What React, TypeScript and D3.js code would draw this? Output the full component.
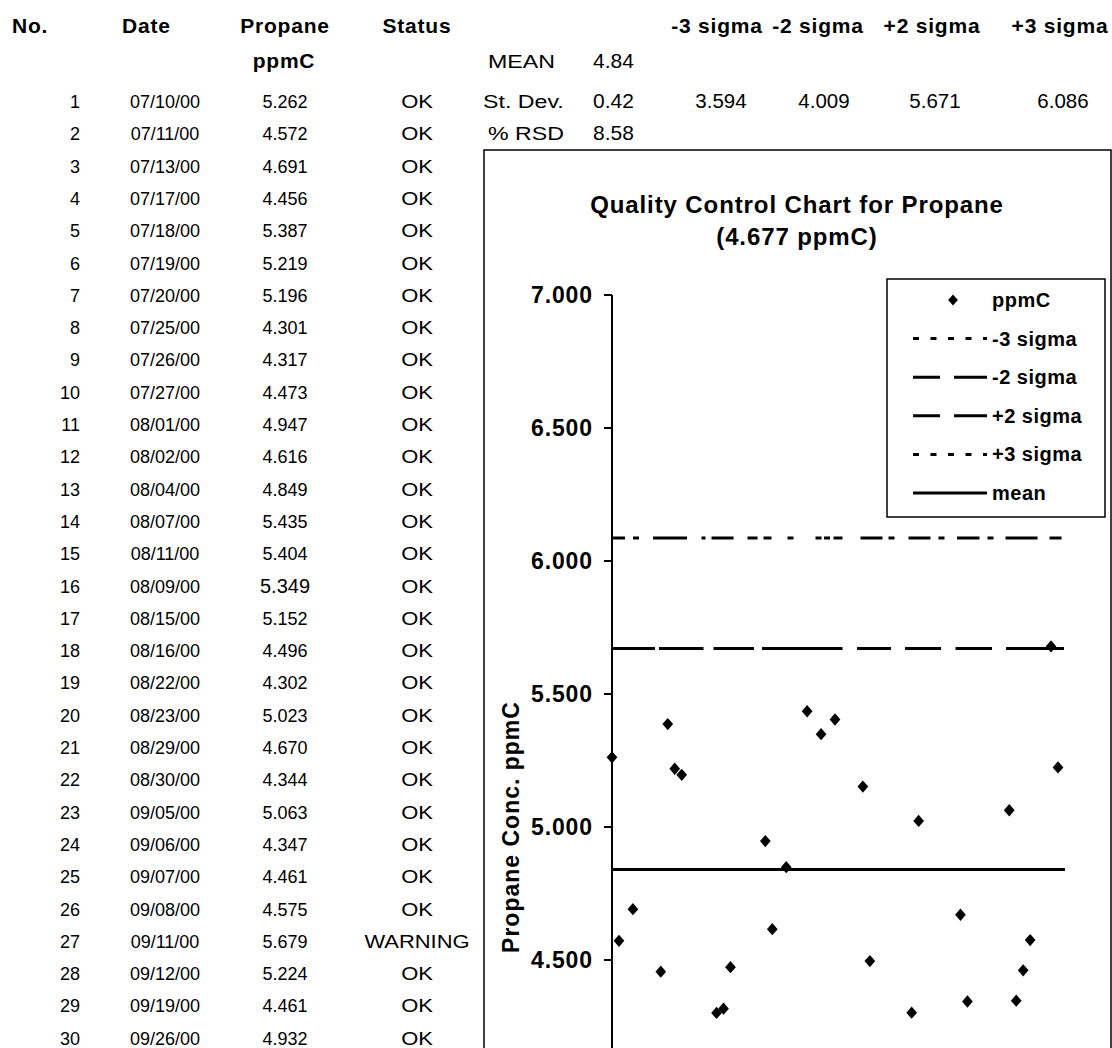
import * as d3 from 'd3';

// spreadsheet columns
const dates = [
  '07/10/00', '07/11/00', '07/13/00', '07/17/00', '07/18/00', '07/19/00',
  '07/20/00', '07/25/00', '07/26/00', '07/27/00', '08/01/00', '08/02/00',
  '08/04/00', '08/07/00', '08/11/00', '08/09/00', '08/15/00', '08/16/00',
  '08/22/00', '08/23/00', '08/29/00', '08/30/00', '09/05/00', '09/06/00',
  '09/07/00', '09/08/00', '09/11/00', '09/12/00', '09/19/00', '09/26/00',
];
const propane = [
  5.262, 4.572, 4.691, 4.456, 5.387, 5.219, 5.196, 4.301, 4.317, 4.473,
  4.947, 4.616, 4.849, 5.435, 5.404, 5.349, 5.152, 4.496, 4.302, 5.023,
  4.67, 4.344, 5.063, 4.347, 4.461, 4.575, 5.679, 5.224, 4.461, 4.932,
];
const status = [
  'OK', 'OK', 'OK', 'OK', 'OK', 'OK', 'OK', 'OK', 'OK', 'OK',
  'OK', 'OK', 'OK', 'OK', 'OK', 'OK', 'OK', 'OK', 'OK', 'OK',
  'OK', 'OK', 'OK', 'OK', 'OK', 'OK', 'WARNING', 'OK', 'OK', 'OK',
];
const headers = ['No.', 'Date', 'Propane', 'Status'];

// summary block
const statLabels = ['MEAN', 'St. Dev.', '% RSD'];
const statValues = [4.84, 0.42, 8.58];
const sigmaLabels = ['-3 sigma', '-2 sigma', '+2 sigma', '+3 sigma'];
const sigmaValues = [3.594, 4.009, 5.671, 6.086];
const meanValue = 4.84;

// chart
const yTicks = [7, 6.5, 6, 5.5, 5, 4.5, 4, 3.5, 3];
const xDomain = ['07/10/00', '09/13/00'];
const legendLabels = ['ppmC', '-3 sigma', '-2 sigma', '+2 sigma', '+3 sigma', 'mean'];

const FONT = '"Liberation Sans", Arial, sans-serif';
const W = 1112;
const H = 1048;
const ROW0 = 108;
const ROW_H = 32.3;
const WIDE = 1.22; // the sheet font has wide capitals
const SIGMA_HDR_X = [717, 818, 932, 1060];
const SIGMA_VAL_X = [721, 824, 935, 1063];

// the dash runs of the original picture are irregular, copy them
const DASH = {
  '-3 sigma': '6 12',
  '-2 sigma': '26 14',
  '+2 sigma': '43 4 44.5 10 40.5 8 80.5 14.5 34 14 36 14.5 36.5 14 58 10',
  '+3 sigma':
    '13 8 6 14 34 14.5 4 6 22 14 10 6 8 16 6 22 6 2.5 6 3.5 9 18 22 6 6 14 22 8 6 12.5 22.5 8 6 12 32 12 12 10',
  mean: null,
};
const LEGEND_DASH = {
  '-3 sigma': '6 11.5',
  '-2 sigma': '27 14 33',
  '+2 sigma': '27 14 33',
  '+3 sigma': '6 11.5',
  mean: null,
};

const parse = d3.timeParse('%m/%d/%y');

const diamond = {
  draw(ctx: any, size: number) {
    const rx = Math.sqrt(size) / 2;
    const ry = rx * 1.15;
    ctx.moveTo(0, -ry);
    ctx.lineTo(rx, 0);
    ctx.lineTo(0, ry);
    ctx.lineTo(-rx, 0);
    ctx.closePath();
  },
};

function Table() {
  const rowY = (i: number) => ROW0 + i * ROW_H;
  const hdr = { fontFamily: FONT, fontWeight: 700, fontSize: 21, letterSpacing: 0.8 };
  const cell = { fontFamily: FONT, fontSize: 18 };
  return (
    <g>
      <text x={12} y={33} style={hdr}>{headers[0]}</text>
      <text x={122} y={33} style={hdr}>{headers[1]}</text>
      <text x={285} y={33} textAnchor="middle" style={hdr}>{headers[2]}</text>
      <text x={417} y={33} textAnchor="middle" style={hdr}>{headers[3]}</text>
      <text x={284} y={68} textAnchor="middle" style={hdr}>ppmC</text>
      {dates.map((d, i) => (
        <g key={i}>
          <text x={80} y={rowY(i)} textAnchor="end" style={cell}>{i + 1}</text>
          <text x={165} y={rowY(i)} textAnchor="middle" style={cell}>{d}</text>
          <text
            x={285}
            y={rowY(i)}
            textAnchor="middle"
            style={{ ...cell, fontSize: i === 15 ? 20 : 18 }}
          >
            {propane[i].toFixed(3)}
          </text>
          <text
            transform={`translate(417,${rowY(i)}) scale(${WIDE},1)`}
            textAnchor="middle"
            style={cell}
          >
            {status[i]}
          </text>
        </g>
      ))}

      {/* summary block */}
      {statLabels.map((s, i) => {
        const yy = i === 0 ? 68 : ROW0 + (i - 1) * ROW_H;
        return (
          <g key={s}>
            <text
              transform={`translate(${i === 1 ? 483 : 488},${yy}) scale(${WIDE},1)`}
              style={{ ...cell, fontSize: 19 }}
            >
              {s}
            </text>
            <text x={593} y={yy} style={{ ...cell, fontSize: 21 }}>
              {statValues[i].toFixed(2)}
            </text>
          </g>
        );
      })}
      {sigmaLabels.map((s, i) => (
        <g key={s}>
          <text x={SIGMA_HDR_X[i]} y={33} textAnchor="middle" style={hdr}>{s}</text>
          <text x={SIGMA_VAL_X[i]} y={ROW0} textAnchor="middle" style={{ ...cell, fontSize: 20.5 }}>
            {sigmaValues[i].toFixed(3)}
          </text>
        </g>
      ))}
    </g>
  );
}

function Chart() {
  const x = d3.scaleTime().domain(xDomain.map(d => parse(d) as Date)).range([612, 1065]);
  const y = d3.scaleLinear().domain([3, 7]).range([1359, 295]);
  const [x0, x1] = x.domain();
  const hline = d3
    .line<Date>()
    .x(d => x(d))
    .y(0);
  const levels = [
    { key: '-3 sigma', v: sigmaValues[0] },
    { key: '-2 sigma', v: sigmaValues[1] },
    { key: '+2 sigma', v: sigmaValues[2] },
    { key: '+3 sigma', v: sigmaValues[3] },
    { key: 'mean', v: meanValue },
  ];
  const points = dates
    .map((d, i) => ({ date: parse(d) as Date, v: propane[i] }))
    .filter(p => p.date <= x1);
  const sym = d3.symbol(diamond as any, 115)();
  const legendSym = d3.symbol(diamond as any, 95)();
  const bold = { fontFamily: FONT, fontWeight: 700 };
  // only the ticks that fall inside the picture get a label
  const shownTicks = yTicks.filter(t => y(t) < H - 20);

  return (
    <g>
      <rect x={484} y={150} width={627} height={1100} fill="#fff" stroke="#000" strokeWidth={1.5} />
      <text x={797} y={213} textAnchor="middle" style={{ ...bold, fontSize: 24, letterSpacing: 0.9 }}>
        Quality Control Chart for Propane
      </text>
      <text x={797} y={245} textAnchor="middle" style={{ ...bold, fontSize: 24, letterSpacing: 0.9 }}>
        (4.677 ppmC)
      </text>

      {/* y axis */}
      <line x1={612} x2={612} y1={y(7)} y2={y(3)} stroke="#000" strokeWidth={2} />
      {shownTicks.map(t => (
        <g key={t} transform={`translate(612,${y(t)})`}>
          <line x1={-8} x2={0} stroke="#000" strokeWidth={2} />
          <text x={-19} y={8} textAnchor="end" style={{ ...bold, fontSize: 23, letterSpacing: 0.9 }}>
            {t.toFixed(3)}
          </text>
        </g>
      ))}
      <text
        transform={`translate(519,${(y(7) + y(3)) / 2}) rotate(-90)`}
        textAnchor="middle"
        style={{ ...bold, fontSize: 23, letterSpacing: 1 }}
      >
        Propane Conc. ppmC
      </text>

      {/* control lines */}
      {levels.map(l => (
        <path
          key={l.key}
          d={hline([x0, x1]) as string}
          transform={`translate(0,${y(l.v)})`}
          fill="none"
          stroke="#000"
          strokeWidth={3}
          strokeDasharray={DASH[l.key as keyof typeof DASH] ?? undefined}
        />
      ))}

      {/* data */}
      {points.map((p, i) => (
        <path key={i} d={sym as string} transform={`translate(${x(p.date)},${y(p.v)})`} fill="#000" />
      ))}

      {/* legend */}
      <rect x={887} y={279} width={218} height={238} fill="#fff" stroke="#000" strokeWidth={1.5} />
      {legendLabels.map((l, i) => {
        const ly = 300 + i * 38.6;
        return (
          <g key={l} transform={`translate(0,${ly})`}>
            {i === 0 ? (
              <path d={legendSym as string} transform="translate(953,0)" fill="#000" />
            ) : (
              <line
                x1={913}
                x2={987}
                stroke="#000"
                strokeWidth={3}
                strokeDasharray={LEGEND_DASH[l as keyof typeof LEGEND_DASH] ?? undefined}
              />
            )}
            <text x={992} y={7} style={{ ...bold, fontSize: 20, letterSpacing: 0.5 }}>
              {l}
            </text>
          </g>
        );
      })}
    </g>
  );
}

export default function App() {
  return (
    <div style={{ position: 'absolute', left: 0, top: 0, width: W, height: H, overflow: 'hidden', background: '#fff' }}>
      <svg width={W} height={H} viewBox={`0 0 ${W} ${H}`} style={{ display: 'block' }}>
        <rect width={W} height={H} fill="#fff" />
        <Table />
        <Chart />
      </svg>
    </div>
  );
}
